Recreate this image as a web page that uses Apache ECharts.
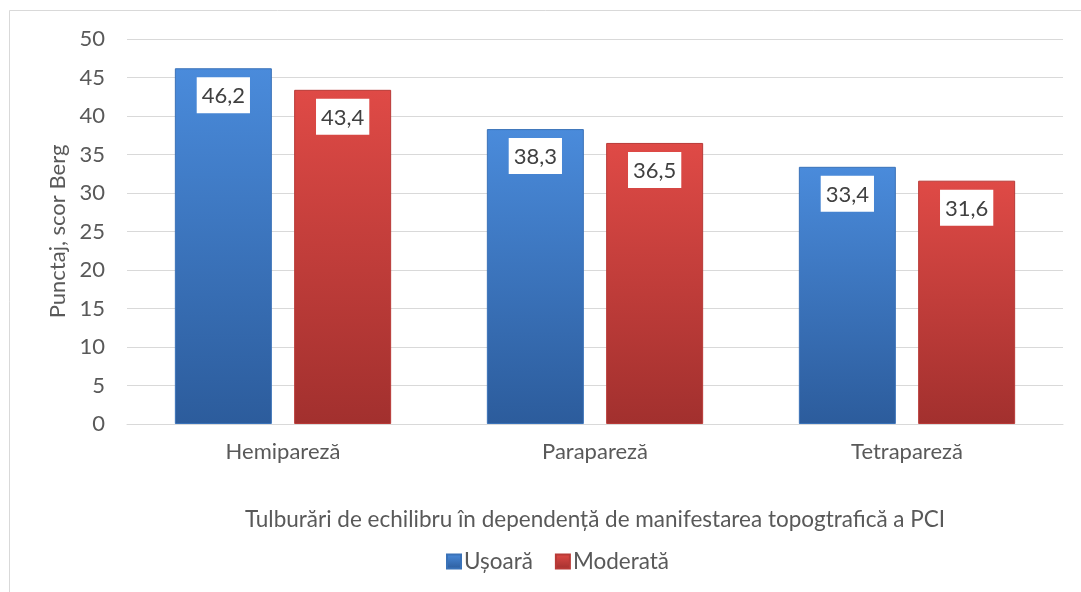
<!DOCTYPE html>
<html>
<head>
<meta charset="utf-8">
<script src="https://cdn.jsdelivr.net/npm/echarts@6/dist/echarts.min.js"></script>
<style>
  html, body { margin: 0; padding: 0; background: #fff; }
  #chart { width: 1081px; height: 592px; }
</style>
</head>
<body>
<div id="chart"></div>
<script>
// chart data
const categories = ['Hemipareză', 'Parapareză', 'Tetrapareză']
const seriesNames = ['Ușoară', 'Moderată']
const usoara = [46.2, 38.3, 33.4]
const moderata = [43.4, 36.5, 31.6]
const yTicks = { min: 0, max: 50, interval: 5 }

const FONT = 'Lato, "Open Sans", sans-serif'
const FS = 22

const grad = (top, bottom) => new echarts.graphic.LinearGradient(0, 0, 0, 1, [
  { offset: 0, color: top },
  { offset: 1, color: bottom }
])

const blueFill = grad('#4a8bdb', '#2c5c9c')
const redFill = grad('#df4a46', '#a2302e')

const labelStyle = {
  show: true,
  position: 'insideTop',
  distance: 9,
  backgroundColor: '#ffffff',
  padding: [8, 5, 6, 5],
  color: '#404040',
  fontSize: FS,
  fontFamily: FONT,
  formatter: (p) => String(p.value).replace('.', ',')
}

const chart = echarts.init(document.getElementById('chart'))

chart.setOption({
  backgroundColor: '#ffffff',
  animation: false,
  graphic: [{
    type: 'rect',
    shape: { x: 9.5, y: 10.5, width: 1080, height: 590 },
    style: { fill: 'none', stroke: '#d9d9d9', lineWidth: 1 },
    silent: true
  }],
  grid: { left: 127, right: 18, top: 39, bottom: 168 },
  legend: {
    bottom: 14,
    left: 441,
    itemWidth: 14,
    itemHeight: 14,
    itemGap: 22,
    icon: 'rect',
    textStyle: { color: '#595959', fontSize: FS + 0.5, fontFamily: FONT, padding: [0, 0, 0, -2] },
    data: seriesNames
  },
  xAxis: {
    type: 'category',
    data: categories,
    name: 'Tulburări de echilibru în dependență de manifestarea topogtrafică a PCI',
    nameLocation: 'middle',
    nameGap: 84,
    nameTextStyle: { color: '#595959', fontSize: FS + 0.5, fontFamily: FONT },
    axisLine: { lineStyle: { color: '#d9d9d9', width: 1 } },
    axisTick: { show: false },
    axisLabel: { color: '#595959', fontSize: FS, fontFamily: FONT, margin: 17 }
  },
  yAxis: {
    type: 'value',
    min: yTicks.min,
    max: yTicks.max,
    interval: yTicks.interval,
    name: 'Punctaj, scor Berg',
    nameLocation: 'middle',
    nameGap: 58,
    nameRotate: 90,
    nameTextStyle: { color: '#595959', fontSize: FS, fontFamily: FONT },
    axisLine: { show: false },
    axisTick: { show: false },
    axisLabel: { color: '#595959', fontSize: FS, fontFamily: FONT, margin: 22 },
    splitLine: { lineStyle: { color: '#d9d9d9', width: 1 } }
  },
  series: [
    {
      name: seriesNames[0],
      type: 'bar',
      data: usoara,
      barWidth: 97,
      barGap: '23%',
      itemStyle: { color: blueFill, borderColor: '#3a72b8', borderWidth: 1 },
      label: labelStyle
    },
    {
      name: seriesNames[1],
      type: 'bar',
      data: moderata,
      barWidth: 97,
      barGap: '23%',
      itemStyle: { color: redFill, borderColor: '#b83a37', borderWidth: 1 },
      label: labelStyle
    }
  ]
})
</script>
</body>
</html>
